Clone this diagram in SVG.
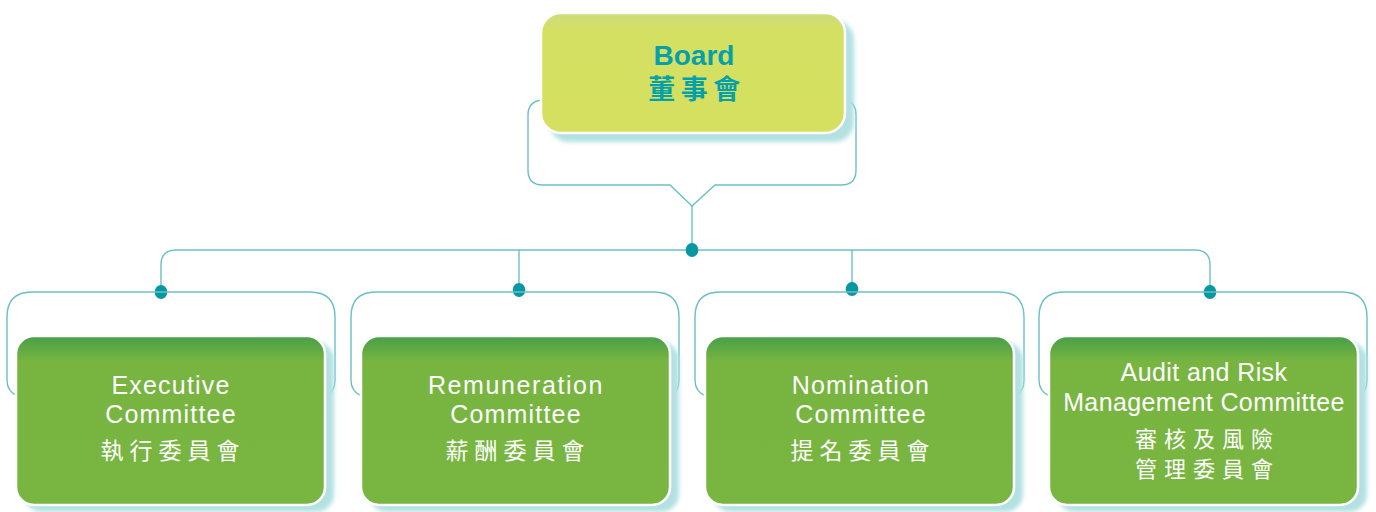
<svg xmlns="http://www.w3.org/2000/svg" width="1376" height="512" viewBox="0 0 1376 512">
<style>
.conn{fill:none;stroke:#6cc0c5;stroke-width:1.4}
.dot{fill:#0597a2}
.shadow{fill:#b3e1e2}
.en{font-family:"Liberation Sans","Noto Sans CJK TC",sans-serif;font-size:25px;fill:#ffffff;text-anchor:middle}
.zh{font-family:"Noto Sans CJK TC",sans-serif;font-size:23px;fill:#ffffff;text-anchor:middle;letter-spacing:6px;font-weight:400}
.zh2{font-family:"Noto Sans CJK TC",sans-serif;font-size:22px;fill:#ffffff;text-anchor:middle;letter-spacing:7px;font-weight:400}
.child{stroke:#ffffff;stroke-width:2.5}
</style>
<defs>
<linearGradient id="gb" x1="0" y1="0" x2="0" y2="1">
<stop offset="0" stop-color="#cedb7c"/>
<stop offset="0.15" stop-color="#d4e062"/>
<stop offset="1" stop-color="#d5e05f"/>
</linearGradient>
<linearGradient id="gg" x1="0" y1="0" x2="0" y2="1">
<stop offset="0" stop-color="#479e4a"/>
<stop offset="0.15" stop-color="#77b540"/>
<stop offset="1" stop-color="#78b641"/>
</linearGradient>
<filter id="blur" x="-10%" y="-10%" width="120%" height="130%">
<feGaussianBlur stdDeviation="2"/>
</filter>
</defs>

<g id="connectors">
<path class="conn" d="M541,100 Q528,102 528,115 V170 Q528,185 543,185 H670 L692,206 L715,185 H841 Q856,185 856,170 V115 Q856,102 845,100"/>
<line class="conn" x1="692" y1="206" x2="692" y2="250"/>
<path class="conn" d="M161,292 V265 Q161,250 176,250 H1195 Q1210,250 1210,265 V292"/>
<line class="conn" x1="519" y1="250" x2="519" y2="290"/>
<line class="conn" x1="852" y1="250" x2="852" y2="289"/>
<ellipse class="dot" cx="692" cy="250" rx="6.3" ry="7"/>
<ellipse class="dot" cx="161" cy="292" rx="6.3" ry="7"/>
<ellipse class="dot" cx="519" cy="290" rx="6.3" ry="7"/>
<ellipse class="dot" cx="852" cy="289" rx="6.3" ry="7"/>
<ellipse class="dot" cx="1210" cy="292" rx="6.3" ry="7"/>
<path class="conn" d="M18,396 Q7,392 7,380 V317 Q7,292 32,292 H310 Q335,292 335,317 V380 Q335,392 326,396"/>
<path class="conn" d="M362,396 Q351,392 351,380 V317 Q351,292 376,292 H654 Q679,292 679,317 V380 Q679,392 670,396"/>
<path class="conn" d="M706,396 Q695,392 695,380 V317 Q695,292 720,292 H999 Q1024,292 1024,317 V380 Q1024,392 1015,396"/>
<path class="conn" d="M1050,396 Q1039,392 1039,380 V317 Q1039,292 1064,292 H1342 Q1367,292 1367,317 V380 Q1367,392 1358,396"/>
</g>

<g id="board">
<rect class="shadow" x="549" y="20" width="305" height="122" rx="20" filter="url(#blur)"/>
<rect x="541" y="13" width="304" height="120" rx="20" fill="url(#gb)" stroke="#ffffff" stroke-width="2.5"/>
<text x="694" y="65" font-family="Liberation Sans, sans-serif" font-size="28" font-weight="bold" fill="#06a0a8" text-anchor="middle">Board</text>
<text x="697" y="99" font-family="Noto Sans CJK TC, sans-serif" font-size="27" font-weight="bold" fill="#06a0a8" text-anchor="middle" letter-spacing="5.5">董事會</text>
</g>

<g id="executive">
<rect class="shadow" x="24" y="342" width="310" height="170" rx="18" filter="url(#blur)"/>
<rect class="child" x="16" y="336" width="309" height="169" rx="18" fill="url(#gg)"/>
<text class="en" x="171" y="394" letter-spacing="1.2">Executive</text>
<text class="en" x="171" y="423" letter-spacing="1.2">Committee</text>
<text class="zh" x="173" y="459">執行委員會</text>
</g>

<g id="remuneration">
<rect class="shadow" x="369" y="342" width="310" height="170" rx="18" filter="url(#blur)"/>
<rect class="child" x="361" y="336" width="309" height="169" rx="18" fill="url(#gg)"/>
<text class="en" x="516" y="394" letter-spacing="1.6">Remuneration</text>
<text class="en" x="516" y="423" letter-spacing="1.2">Committee</text>
<text class="zh" x="518" y="459">薪酬委員會</text>
</g>

<g id="nomination">
<rect class="shadow" x="713" y="342" width="310" height="170" rx="18" filter="url(#blur)"/>
<rect class="child" x="705" y="336" width="309" height="169" rx="18" fill="url(#gg)"/>
<text class="en" x="861" y="394" letter-spacing="1.2">Nomination</text>
<text class="en" x="861" y="423" letter-spacing="1.2">Committee</text>
<text class="zh" x="863" y="459">提名委員會</text>
</g>

<g id="audit">
<rect class="shadow" x="1057" y="342" width="310" height="170" rx="18" filter="url(#blur)"/>
<rect class="child" x="1049" y="336" width="309" height="169" rx="18" fill="url(#gg)"/>
<text class="en" x="1204" y="381" letter-spacing="0.4">Audit and Risk</text>
<text class="en" x="1204" y="411" letter-spacing="0.4">Management Committee</text>
<text class="zh2" x="1207.5" y="447">審核及風險</text>
<text class="zh2" x="1207.5" y="477">管理委員會</text>
</g>
</svg>
